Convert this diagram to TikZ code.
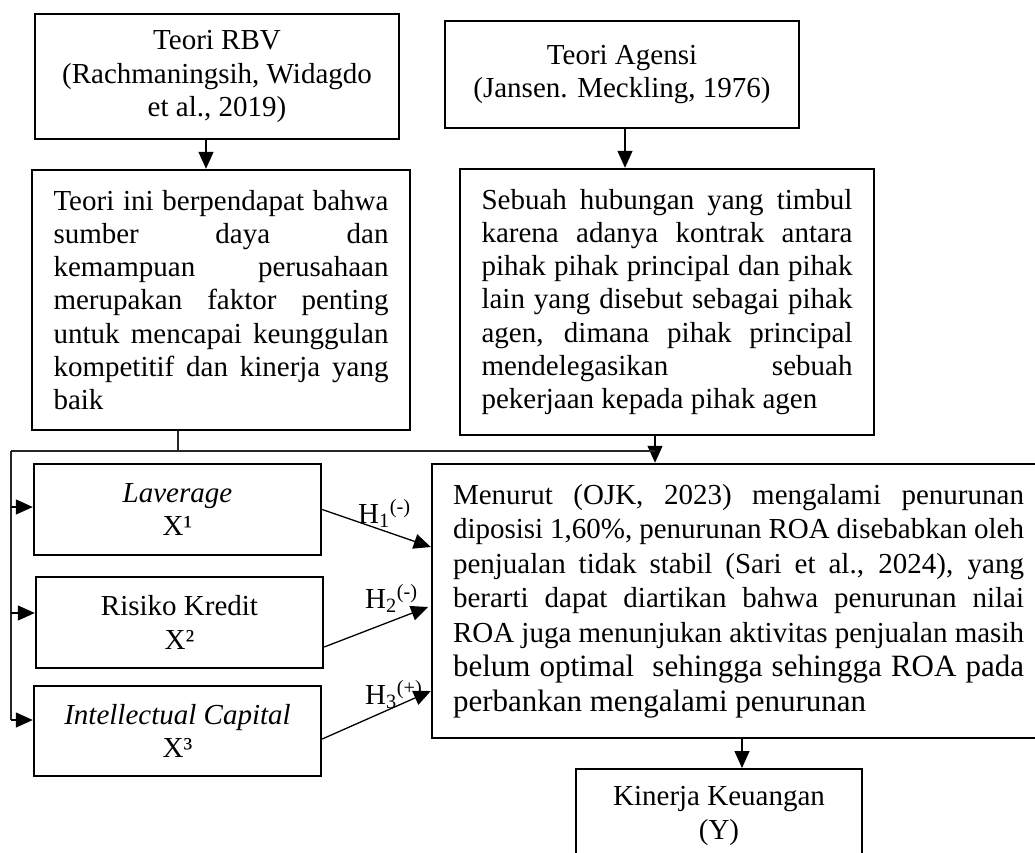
\documentclass[tikz,border=0pt]{standalone}
\usepackage{fontspec}
\setmainfont{Liberation Serif}
\usetikzlibrary{arrows.meta}
\newcommand\jst[2]{\makebox[#1][s]{#2}}
\begin{document}
\begin{tikzpicture}[x=1pt,y=-1pt,
  font=\fontsize{29}{33.3}\selectfont,
  box/.style={draw, line width=2.4pt, inner sep=0pt, align=center},
  arr/.style={line width=1.3pt, -{Triangle[length=17pt,width=15pt]}},
  tree/.style={line width=1.1pt, black!85},
  lbl/.style={inner sep=0pt, anchor=base west}]
\clip (0,0) rectangle (1035,853);
\fill[white] (0,0) rectangle (1035,853);

% top row
\node[box, minimum width=364pt, minimum height=125pt] (rbv) at (217,76.5)
  {Teori RBV\\(Rachmaningsih, Widagdo\\et al., 2019)};
\node[box, minimum width=354pt, minimum height=107pt] (age) at (622,74.5)
  {Teori Agensi\\(Jansen. Meckling, 1976)};

% second row
\node[box, minimum width=378pt, minimum height=260pt, align=left] (ini) at (221,300)
  {\jst{335pt}{Teori ini berpendapat bahwa}\\
   \jst{335pt}{sumber daya dan}\\
   \jst{335pt}{kemampuan perusahaan}\\
   \jst{335pt}{merupakan faktor penting}\\
   \jst{335pt}{untuk mencapai keunggulan}\\
   \jst{335pt}{kompetitif dan kinerja yang}\\
   baik};
\node[box, minimum width=414pt, minimum height=266pt, align=left] (seb) at (667,302)
  {\jst{371pt}{Sebuah hubungan yang timbul}\\
   \jst{371pt}{karena adanya kontrak antara}\\
   \jst{371pt}{pihak pihak principal dan pihak}\\
   \jst{371pt}{lain yang disebut sebagai pihak}\\
   \jst{371pt}{agen, dimana pihak principal}\\
   \jst{371pt}{mendelegasikan sebuah}\\
   pekerjaan kepada pihak agen};

% variables
\node[box, minimum width=287pt, minimum height=91pt] (lav) at (177.5,509.5)
  {\textit{Laverage}\\X¹};
\node[box, minimum width=287pt, minimum height=91pt] (ris) at (179.5,622.5)
  {Risiko Kredit\\X²};
\node[box, minimum width=287pt, minimum height=90pt] (ic) at (177.5,731)
  {\textit{Intellectual Capital}\\X³};

% main box
\node[box, minimum width=613pt, minimum height=274pt, align=left,
      font=\fontsize{29}{34.5}\selectfont] (men) at (738.5,601)
  {\jst{571pt}{Menurut (OJK, 2023) mengalami penurunan}\\
   \jst{571pt}{diposisi 1,60\%, penurunan ROA disebabkan oleh}\\
   \jst{571pt}{penjualan tidak stabil (Sari et al., 2024), yang}\\
   \jst{571pt}{berarti dapat diartikan bahwa penurunan nilai}\\
   \jst{571pt}{ROA juga menunjukan aktivitas penjualan masih}\\
   {\fontsize{31}{34.5}\selectfont\jst{571pt}{belum optimal \ sehingga sehingga ROA pada}}\\
   {\fontsize{31}{34.5}\selectfont perbankan mengalami penurunan}};

% output box
\node[box, minimum width=286pt, minimum height=112pt, anchor=north] (kin) at (719,768) {};
\node[inner sep=0pt, align=center] (kint) at (719,816) {Kinerja Keuangan\\(Y)};

% hypothesis labels
\node[lbl] (l1) at (358,523) {H\textsubscript{1}\textsuperscript{(-)}};
\node[lbl] (l2) at (365,608) {H\textsubscript{2}\textsuperscript{(-)}};
\node[lbl] (l3) at (365,704) {H\textsubscript{3}\textsuperscript{(+)}};

% connectors
\coordinate (c1) at (206,0);
\draw[arr] (rbv.south -| c1) -- (ini.north -| c1);
\coordinate (c2) at (625,0);
\draw[arr] (age.south -| c2) -- (seb.north -| c2);
\coordinate (jn) at (655,451);
\draw[arr] (seb.south -| jn) -- (men.north -| jn);
\coordinate (kn) at (178,451);
\draw[tree] (ini.south -| kn) -- (kn);
\coordinate (ln) at (11,451);
\draw[tree] (ln) -- (jn);
\coordinate (lb) at (11,720);
\draw[tree] (ln) -- (lb);
\coordinate (y1) at (0,507);
\coordinate (y2) at (0,613);
\draw[arr] (ln |- y1) -- (lav.west |- y1);
\draw[arr] (ln |- y2) -- (ris.west |- y2);
\draw[arr] (lb) -- (ic.west |- lb);
\coordinate (c3) at (742,0);
\draw[arr] (men.south -| c3) -- (kin.north -| c3);

% hypothesis arrows
\coordinate (e1) at (0,547);
\draw[arr] (lav.east) -- (men.west |- e1);
\coordinate (s2) at (0,647);
\coordinate (e2) at (428,607);
\draw[arr] (ris.east |- s2) -- (e2);
\coordinate (s3) at (0,739);
\coordinate (e3) at (0,691);
\draw[arr] (ic.east |- s3) -- (men.west |- e3);
\end{tikzpicture}
\end{document}
